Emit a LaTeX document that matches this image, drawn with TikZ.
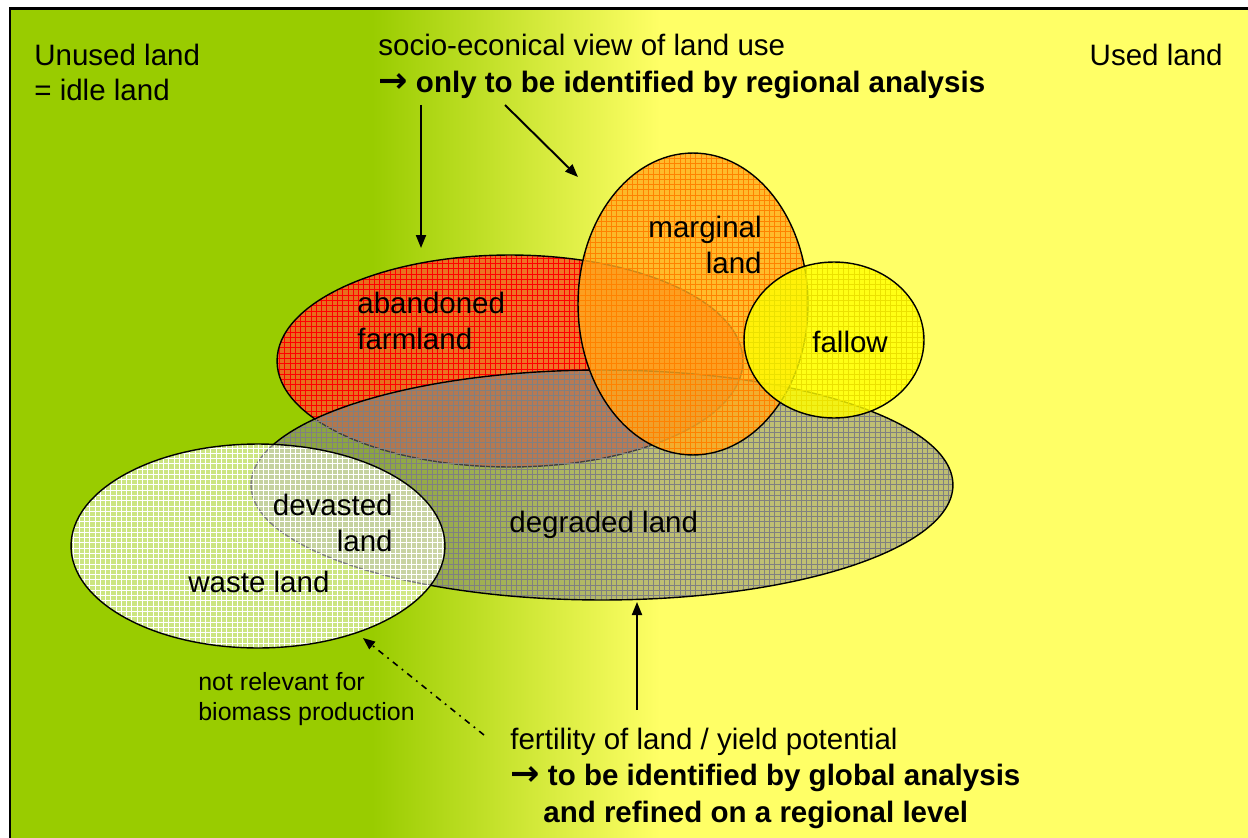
\documentclass[tikz,border=0pt]{standalone}
\usepackage{fontspec}
\setmainfont{Liberation Sans}
\newfontfamily\arrowfont{DejaVu Sans}
\usetikzlibrary{arrows.meta,patterns,positioning}
\definecolor{idlegreen}{RGB}{153,204,0}
\definecolor{usedyellow}{RGB}{255,255,102}
\definecolor{farmred}{RGB}{245,95,35}
\definecolor{margorange}{RGB}{255,170,30}
\definecolor{fallowyellow}{RGB}{255,255,0}
\definecolor{gridorange}{RGB}{255,130,0}
\definecolor{gridyellow}{RGB}{235,225,0}
\newcommand{\thento}{{\arrowfont\bfseries\fontsize{20}{20}\selectfont →}}

\begin{document}
\begin{tikzpicture}[x=0.02cm,y=-0.02cm,
    txt/.style={font=\fontsize{16.8}{20}\selectfont, inner sep=0pt, align=left},
    small/.style={font=\fontsize{14.2}{17}\selectfont, inner sep=0pt, align=left},
    landset/.style n args={4}{preaction={fill=#1, fill opacity=#3},
      pattern=grid, pattern color=#2, fill opacity=#4, draw=black, line width=0.8pt},
    arr/.style={-{Triangle[length=0.26cm,width=0.2cm]}, line width=1.1pt},
    dashdot/.style={-{Triangle[length=0.24cm,width=0.19cm]}, line width=0.9pt,
      dash pattern=on 3.5pt off 3pt on 1pt off 3pt}]
  \useasboundingbox (0,0) rectangle (1248,838);
  \begin{scope}
    \clip (0,0) rectangle (1248,838);
    % background: idle (left) to used (right)
    \fill[idlegreen] (10,8) rectangle (373,850);
    \shade[left color=idlegreen, right color=usedyellow] (372,8) rectangle (660,850);
    \fill[usedyellow] (659,8) rectangle (1260,850);
    \draw[line width=1.7pt] (10,850) -- (10,8.5) -- (1260,8.5);
  \end{scope}

  % land categories
  \draw[landset={farmred}{red}{0.85}{0.7}] (510,361) ellipse [x radius=4.66cm, y radius=2.12cm];
  \draw[landset={gray}{gray}{0.5}{0.9}] (602,485) ellipse [x radius=7.02cm, y radius=2.30cm];
  \draw[landset={white}{white}{0.5}{0.8}] (258,546) ellipse [x radius=3.74cm, y radius=2.04cm];
  \draw[landset={margorange}{gridorange}{0.8}{0.7}] (693,304) ellipse [x radius=2.30cm, y radius=3.02cm];
  \draw[landset={fallowyellow}{gridyellow}{0.8}{0.7}] (834,340) ellipse [x radius=1.80cm, y radius=1.56cm];

  % labels (base = last line)
  \node[txt, anchor=base west] (unused) at (34,101) {Unused land\\= idle land};
  \node[txt, anchor=base east] (used) at (1223,66) {Used land};
  \node[txt, anchor=base west, font=\fontsize{16.8}{21}\selectfont] (socio) at (378,92)
    {socio-econical view of land use\\\thento\ \textbf{only to be identified by regional analysis}};
  \node[txt, anchor=base east, align=right] (marginal) at (762,273) {marginal\\land};
  \node[txt, anchor=base west] (abandoned) at (357,349) {abandoned\\farmland};
  \node[txt, anchor=base west] (fallow) at (812,352) {fallow};
  \node[txt, anchor=base east, align=right] (devasted) at (393,551) {devasted\\land};
  \node[txt, anchor=base west] (waste) at (188,592) {waste land};
  \node[txt, anchor=base west] (degraded) at (509,532) {degraded land};
  \node[small, anchor=base west] (notrel) at (198,720) {not relevant for\\biomass production};
  \node[txt, anchor=base west, font=\fontsize{16.8}{20.5}\selectfont] (fertility) at (510,822)
    {fertility of land / yield potential\\\thento\ \textbf{to be identified by global analysis}\\\hspace*{0.66cm}\textbf{and refined on a regional level}};

  % arrows
  \coordinate (s1) at (421,105);
  \coordinate (t1) at (421,248);
  \coordinate (s2) at (505,105);
  \coordinate (t2) at (578,177);
  \coordinate (s3) at (637,710);
  \coordinate (t3) at (637,602);
  \coordinate (s4) at (484,735);
  \coordinate (t4) at (363,638);
  \draw[arr] (s1) -- (t1);
  \draw[arr] (s2) -- (t2);
  \draw[arr] (s3) -- (t3);
  \draw[dashdot] (s4) -- (t4);
\end{tikzpicture}
\end{document}
